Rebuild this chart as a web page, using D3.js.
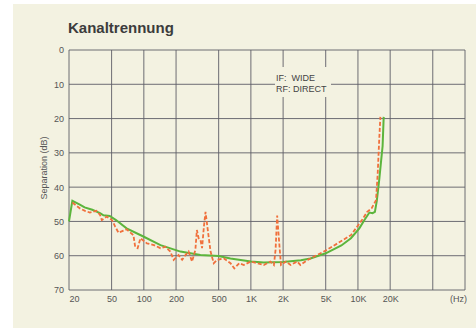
<!DOCTYPE html>
<html>
<head>
<meta charset="utf-8">
<script src="https://cdn.jsdelivr.net/npm/d3@7"></script>
<style>
  body { margin: 0; background: #fff; }
  svg text { font-family: "Liberation Sans", Arial, sans-serif; }
</style>
</head>
<body>
<svg id="chart" width="476" height="328"></svg>
<script>
// frequency grid (Hz) and labels
var freqTicks = [20, 50, 100, 200, 500, 1000, 2000, 5000, 10000, 20000, 50000, 100000];
var freqLabels = ["20", "50", "100", "200", "500", "1K", "2K", "5K", "10K", "20K", "", ""];
var dbTicks = [0, 10, 20, 30, 40, 50, 60, 70];

// green solid curve: [Hz, dB]
var greenFreq = [20, 21.5, 25, 28, 33, 39, 42, 48, 55, 69, 99, 143, 220, 338, 500, 644, 1000, 1320, 2000, 2930, 3600, 5000, 7000, 8600, 10300, 11500, 12800, 13700, 14400, 15000, 15800, 16500, 17000, 17400];
var greenDb   = [50, 44, 45, 45.9, 46.6, 47.6, 48.2, 48.4, 49.6, 52, 54.4, 56.9, 58.8, 59.8, 60.1, 60.8, 61.7, 62, 61.8, 61.3, 60.8, 59.3, 57, 54.9, 52, 49.6, 47.4, 47.6, 47.2, 44, 37.9, 32, 28, 19.5];

// orange dashed curve: [Hz, dB]
var redFreq = [21.5, 25.3, 28.2, 31.3, 36, 39, 40.5, 45, 50.4, 54, 58, 64.5, 69, 80, 83, 87.5, 93, 107, 124, 143, 159, 177, 190, 211, 228, 245, 262, 282, 303, 313, 325, 338, 350, 364, 377, 392, 420, 450, 485, 560, 645, 700, 778, 860, 1000, 1150, 1320, 1520, 1640, 1700, 1760, 1820, 1910, 2130, 2350, 2700, 2900, 3400, 5000, 8600, 10900, 12200, 13400, 14750, 15300, 15800, 16200];
var redDb   = [44.5, 46.2, 46.9, 47.4, 46.9, 48.1, 49.6, 48.6, 49.6, 51.5, 53.3, 52.7, 52.3, 54, 57.4, 57.8, 54.9, 56.4, 56.9, 57.8, 57.4, 58.8, 61.2, 59.8, 61.2, 59.8, 58.8, 61.7, 58.3, 52.5, 54.9, 55.4, 57.8, 51.5, 47.2, 51.5, 58.8, 62.2, 61.2, 60.8, 62.2, 63.7, 62.2, 62.7, 61.7, 62.2, 62.7, 61.7, 62.7, 58.3, 48.3, 54.4, 62.7, 61.7, 62.7, 61.7, 62.7, 61.2, 58.5, 54, 49.6, 47.2, 46.2, 43.8, 36, 26.2, 19.5];

var svg = d3.select("#chart");

// paper
svg.append("rect")
    .attr("x", 13).attr("y", 4)
    .attr("width", 463).attr("height", 324)
    .attr("fill", "#f3f2e1");

var x = d3.scaleLog().domain([20, 100000]).range([69, 465]);
var y = d3.scaleLinear().domain([0, 70]).range([50, 290]);

// title
svg.append("text")
    .attr("x", 68).attr("y", 33)
    .attr("font-size", 15).attr("font-weight", "bold")
    .attr("fill", "#3c3c3c")
    .text("Kanaltrennung");

// grid
var grid = svg.append("g").attr("stroke", "#5e5e66").attr("stroke-width", 0.9);
grid.selectAll("line.v")
    .data(freqTicks)
  .enter().append("line")
    .attr("class", "v")
    .attr("x1", function(d) { return x(d); })
    .attr("x2", function(d) { return x(d); })
    .attr("y1", y(0)).attr("y2", y(70));
grid.selectAll("line.h")
    .data(dbTicks)
  .enter().append("line")
    .attr("class", "h")
    .attr("y1", function(d) { return y(d); })
    .attr("y2", function(d) { return y(d); })
    .attr("x1", x(20)).attr("x2", x(100000));

// y axis labels
var yAxis = svg.append("g")
    .attr("transform", "translate(" + x(20) + ",0)")
    .call(d3.axisLeft(y).tickValues(dbTicks).tickSize(0).tickPadding(5));
yAxis.select(".domain").remove();
yAxis.selectAll("text").attr("font-size", 9).attr("fill", "#555").attr("font-family", null);

// x axis labels
var xAxis = svg.append("g")
    .attr("transform", "translate(0," + y(70) + ")")
    .call(d3.axisBottom(x).tickValues(freqTicks).tickSize(0).tickPadding(6)
        .tickFormat(function(d, i) { return freqLabels[i]; }));
xAxis.select(".domain").remove();
xAxis.selectAll("text").attr("font-size", 9).attr("fill", "#555").attr("font-family", null);
xAxis.selectAll("text").filter(function(d) { return d === 20; }).attr("text-anchor", "start");

svg.append("text")
    .attr("x", 467).attr("y", 302)
    .attr("text-anchor", "end")
    .attr("font-size", 9).attr("fill", "#555")
    .text("(Hz)");

svg.append("text")
    .attr("transform", "translate(47,168) rotate(-90)")
    .attr("text-anchor", "middle")
    .attr("font-size", 9).attr("fill", "#555")
    .text("Separation (dB)");

// annotation box
svg.append("rect")
    .attr("x", 275).attr("y", 67)
    .attr("width", 56).attr("height", 30)
    .attr("fill", "#f3f2e1");
svg.append("text")
    .attr("x", 276).attr("y", 81)
    .attr("font-size", 9).attr("fill", "#444")
    .attr("xml:space", "preserve")
    .text("IF:  WIDE");
svg.append("text")
    .attr("x", 276).attr("y", 92)
    .attr("font-size", 9).attr("fill", "#444")
    .text("RF: DIRECT");

var line = d3.line()
    .x(function(d) { return x(d[0]); })
    .y(function(d) { return y(d[1]); });

svg.append("path")
    .datum(greenFreq.map(function(f, i) { return [f, greenDb[i]]; }))
    .attr("d", line)
    .attr("fill", "none")
    .attr("stroke", "#5cb53c")
    .attr("stroke-width", 2);

svg.append("path")
    .datum(redFreq.map(function(f, i) { return [f, redDb[i]]; }))
    .attr("d", line)
    .attr("fill", "none")
    .attr("stroke", "#f0703c")
    .attr("stroke-width", 1.8)
    .attr("stroke-dasharray", "4,2");
</script>
</body>
</html>
